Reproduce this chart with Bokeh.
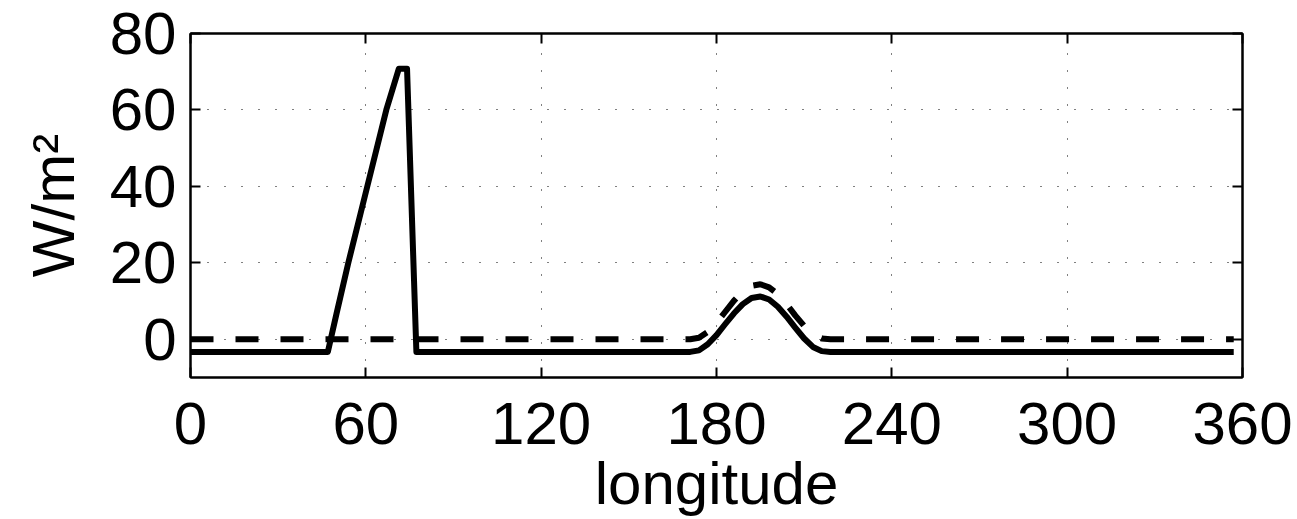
from bokeh.plotting import figure
from bokeh.models import LinearAxis, FixedTicker, Range1d, CustomJSTickFormatter
from bokeh.embed import file_html
from bokeh.resources import INLINE

# ---- data ----
x_ticks = [0, 60, 120, 180, 240, 300, 360]
y_ticks = [0, 20, 40, 60, 80]

# solid series
solid_lon = [0, 47, 50, 54, 60.5, 67, 71.3, 74.1, 77.3,
             171, 174, 177, 180, 183, 186, 189, 192, 195, 198, 201, 204, 207, 210, 213, 216, 219,
             357]
solid_val = [-3.3, -3.3, 6.8, 20, 40, 60, 70.8, 70.8, -3.3,
             -3.3, -2.9, -1.3, 1.1, 4.0, 6.8, 9.2, 10.8, 11.2, 10.4, 8.5, 5.9, 3.0, 0.2, -2.0, -3.1, -3.3,
             -3.3]

# dashed series
dash_lon = [0, 171, 174, 177, 180, 183, 186, 189, 192, 195, 198, 201, 204, 207, 210, 213, 216, 219, 357]
dash_val = [0, 0, 0.4, 1.9, 4.3, 7.2, 10.1, 12.5, 14.0, 14.4, 13.6, 11.8, 9.2, 6.2, 3.5, 1.3, 0.2, 0, 0]

FONT = "Liberation Sans"
FS = "60px"

p = figure(frame_width=1052, frame_height=344,
           min_border_left=190, min_border_right=55, min_border_top=33, min_border_bottom=142,
           x_range=Range1d(0, 360), y_range=Range1d(-10, 80),
           output_backend="svg", toolbar_location=None)

p.line(dash_lon, dash_val, line_color="black", line_width=6, line_dash="23 22", line_cap="butt")
p.line(solid_lon, solid_val, line_color="black", line_width=6, line_join="round", line_cap="butt")

# axes
p.xaxis.ticker = FixedTicker(ticks=x_ticks)
p.yaxis.ticker = FixedTicker(ticks=y_ticks)
for ax in (p.xaxis[0], p.yaxis[0]):
    ax.major_label_text_font = FONT
    ax.major_label_text_font_size = FS
    ax.major_label_text_color = "black"
    ax.axis_label_text_font = FONT
    ax.axis_label_text_font_size = FS
    ax.axis_label_text_font_style = "normal"
    ax.axis_label_text_color = "black"
    ax.axis_line_color = "black"
    ax.axis_line_width = 2
    ax.major_tick_line_color = "black"
    ax.major_tick_line_width = 2
    ax.major_tick_in = 10
    ax.major_tick_out = 0
    ax.minor_tick_line_color = None

p.xaxis.axis_label = "longitude"
p.xaxis.major_label_standoff = 25
p.xaxis.axis_label_standoff = 3
p.yaxis.axis_label = "W/m²"
p.yaxis.major_label_standoff = 14
p.yaxis.axis_label_standoff = 20

empty = CustomJSTickFormatter(code="return ''")
top = LinearAxis(ticker=FixedTicker(ticks=x_ticks), formatter=empty,
                 axis_line_color="black", axis_line_width=2,
                 major_tick_line_color="black", major_tick_line_width=2,
                 major_tick_in=10, major_tick_out=0, minor_tick_line_color=None,
                 major_label_standoff=0)
right = LinearAxis(ticker=FixedTicker(ticks=y_ticks), formatter=empty,
                   axis_line_color="black", axis_line_width=2,
                   major_tick_line_color="black", major_tick_line_width=2,
                   major_tick_in=10, major_tick_out=0, minor_tick_line_color=None,
                   major_label_standoff=0)
p.add_layout(top, "above")
p.add_layout(right, "right")

# grid
for g in (p.xgrid[0], p.ygrid[0]):
    g.grid_line_color = "black"
    g.grid_line_width = 1
    g.grid_line_dash = "1 16"
p.xgrid.ticker = FixedTicker(ticks=x_ticks)
p.ygrid.ticker = FixedTicker(ticks=y_ticks)

p.outline_line_color = "black"
p.outline_line_width = 2
p.background_fill_color = "white"
p.border_fill_color = "white"

open("out.html", "w").write(file_html(p, INLINE))
